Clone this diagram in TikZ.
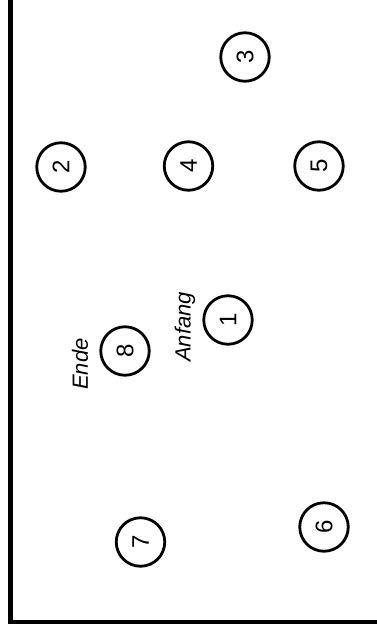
\documentclass[tikz,border=0pt]{standalone}
\usepackage{fontspec}
\setmainfont{Liberation Sans}
\begin{document}
\begin{tikzpicture}[x=1pt,y=-1pt,
  station/.style={circle,draw=black,line width=2.8pt,minimum size=48.5pt,inner sep=0pt,
    font=\fontsize{24}{26}\selectfont},
  lbl/.style={font=\fontsize{22}{24}\selectfont\itshape,rotate=90,inner sep=0pt}]
\useasboundingbox (0,0) rectangle (377,635);
\fill[white] (0,0) rectangle (377,635);
% frame
\coordinate (ftop) at (10.5,0);
\coordinate (fcorner) at (10.5,622);
\coordinate (fright) at (377,622);
\draw[line width=4.5pt,line join=miter] (ftop) -- (fcorner) -- (fright);
% stations
\node[station] (n1) at (228,320) {\rotatebox{90}{1}};
\node[station] (n2) at (61,167) {\rotatebox{90}{2}};
\node[station] (n3) at (245,57) {\rotatebox{90}{3}};
\node[station] (n4) at (188.5,166) {\rotatebox{90}{4}};
\node[station] (n5) at (319,166) {\rotatebox{90}{5}};
\node[station] (n6) at (324,527) {\rotatebox{90}{6}};
\node[station] (n7) at (140.5,542) {\rotatebox{90}{7}};
\node[station] (n8) at (125,351) {\rotatebox{90}{8}};
% labels
\node[lbl] (anfang) at (185,327) {Anfang};
\node[lbl] (ende) at (80,364) {Ende};
\end{tikzpicture}
\end{document}
